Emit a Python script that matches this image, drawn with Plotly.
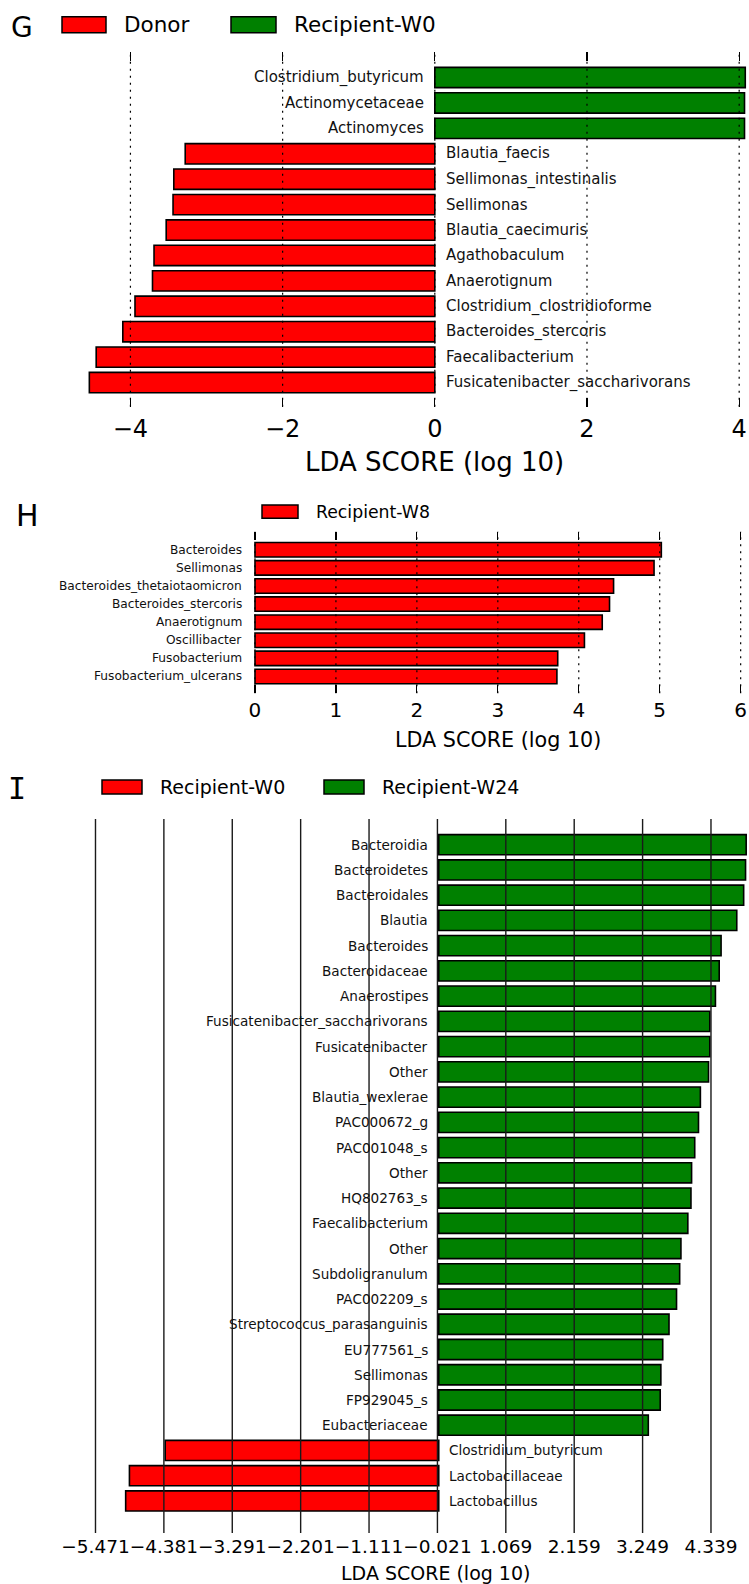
import plotly.graph_objects as go

W, H = 749, 1584
FONT = "DejaVu Sans"
RED, GREEN = "#FF0000", "#008000"

# ---------------- data ----------------
g_labels = ["Clostridium_butyricum", "Actinomycetaceae", "Actinomyces", "Blautia_faecis",
            "Sellimonas_intestinalis", "Sellimonas", "Blautia_caecimuris", "Agathobaculum",
            "Anaerotignum", "Clostridium_clostridioforme", "Bacteroides_stercoris",
            "Faecalibacterium", "Fusicatenibacter_saccharivorans"]
g_scores = [4.08, 4.07, 4.07, -3.28, -3.43, -3.44, -3.53, -3.69, -3.71, -3.94, -4.10, -4.45, -4.54]
g_classes = ["Donor", "Recipient-W0"]
g_ticks = [-4, -2, 0, 2, 4]

h_labels = ["Bacteroides", "Sellimonas", "Bacteroides_thetaiotaomicron", "Bacteroides_stercoris",
            "Anaerotignum", "Oscillibacter", "Fusobacterium", "Fusobacterium_ulcerans"]
h_scores = [5.02, 4.93, 4.43, 4.38, 4.29, 4.07, 3.74, 3.73]
h_classes = ["Recipient-W8"]
h_ticks = [0, 1, 2, 3, 4, 5, 6]

i_labels = ["Bacteroidia", "Bacteroidetes", "Bacteroidales", "Blautia", "Bacteroides",
            "Bacteroidaceae", "Anaerostipes", "Fusicatenibacter_saccharivorans", "Fusicatenibacter",
            "Other", "Blautia_wexlerae", "PAC000672_g", "PAC001048_s", "Other", "HQ802763_s",
            "Faecalibacterium", "Other", "Subdoligranulum", "PAC002209_s",
            "Streptococcus_parasanguinis", "EU777561_s", "Sellimonas", "FP929045_s",
            "Eubacteriaceae", "Clostridium_butyricum", "Lactobacillaceae", "Lactobacillus"]
i_scores = [4.90, 4.89, 4.86, 4.75, 4.50, 4.47, 4.41, 4.32, 4.32, 4.30, 4.17, 4.14, 4.08,
            4.03, 4.02, 3.97, 3.86, 3.84, 3.79, 3.67, 3.57, 3.54, 3.53, 3.34,
            -4.36, -4.93, -4.99]
i_classes = ["Recipient-W0", "Recipient-W24"]
i_ticks = [-5.471, -4.381, -3.291, -2.201, -1.111, -0.021, 1.069, 2.159, 3.249, 4.339]
i_ticktext = ["\u22125.471", "\u22124.381", "\u22123.291", "\u22122.201", "\u22121.111",
              "\u22120.021", "1.069", "2.159", "3.249", "4.339"]

AXIS_TITLE = "LDA SCORE (log 10)"


def py(px):
    return 1 - px / H


def px_(x):
    return x / W


fig = go.Figure()


def add_panel(n, labels, scores, classes, colors):
    """classes/colors: (class for negative scores, class for positive scores)."""
    xa, ya = ("x", "y") if n == 1 else (f"x{n}", f"y{n}")
    idx = list(range(len(labels)))
    groups = [(classes[0], colors[0], lambda s: s < 0), (classes[1], colors[1], lambda s: s >= 0)]
    for cls, color, keep in groups:
        ys = [i for i, s in zip(idx, scores) if keep(s)]
        xs = [s for s in scores if keep(s)]
        if not xs:
            continue
        fig.add_trace(go.Bar(x=xs, y=ys, orientation="h", width=0.8, name=cls,
                             marker=dict(color=color, line=dict(color="black", width=1.6)),
                             xaxis=xa, yaxis=ya, showlegend=False, hoverinfo="skip"))


add_panel(1, g_labels, g_scores, (g_classes[0], g_classes[1]), (RED, GREEN))
add_panel(2, h_labels, h_scores, (None, h_classes[0]), (None, RED))
add_panel(3, i_labels, i_scores, (i_classes[0], i_classes[1]), (RED, GREEN))

annotations = []
shapes = []


def cat_labels(xref, yref, labels, scores, size, shift):
    for i, (lab, s) in enumerate(zip(labels, scores)):
        annotations.append(dict(x=0, y=i, xref=xref, yref=yref, text=lab, showarrow=False,
                                xanchor="left" if s < 0 else "right", yanchor="middle",
                                xshift=shift if s < 0 else -shift,
                                font=dict(family=FONT, size=size, color="#111")))


cat_labels("x", "y", g_labels, g_scores, 15, 9)
cat_labels("x2", "y2", h_labels, h_scores, 12.2, 10.5)
cat_labels("x3", "y3", i_labels, i_scores, 13.6, 8.5)

# gridlines (drawn above bars, as in the reference)
for t in g_ticks:
    shapes.append(dict(type="line", xref="x", yref="y domain", x0=t, x1=t, y0=0, y1=1,
                       line=dict(color="black", width=1.2, dash="2px,5px"), layer="above"))
for t in h_ticks:
    shapes.append(dict(type="line", xref="x2", yref="y2 domain", x0=t, x1=t, y0=0, y1=1,
                       line=dict(color="black", width=1.2, dash="2px,5px"), layer="above"))
for t in i_ticks:
    shapes.append(dict(type="line", xref="x3", yref="y3 domain", x0=t, x1=t, y0=0, y1=1,
                       line=dict(color="#1a1a1a", width=1.4), layer="above"))

# panel letters
annotations += [
    dict(x=px_(22), y=py(27), xref="paper", yref="paper", text="G", showarrow=False,
         font=dict(family=FONT, size=28, color="black"), xanchor="center", yanchor="middle"),
    dict(x=px_(27), y=py(516), xref="paper", yref="paper", text="H", showarrow=False,
         font=dict(family=FONT, size=30, color="black"), xanchor="center", yanchor="middle"),
    dict(x=px_(17), y=py(789), xref="paper", yref="paper", text="I", showarrow=False,
         font=dict(family="DejaVu Sans Mono", size=30, color="black"), xanchor="center",
         yanchor="middle"),
]


# legends (swatch + text)
def legend_item(x0, x1, y0, y1, color, text, size):
    shapes.append(dict(type="rect", xref="paper", yref="paper", x0=px_(x0), x1=px_(x1),
                       y0=py(y1), y1=py(y0), fillcolor=color, line=dict(color="black", width=1.5),
                       layer="above"))
    annotations.append(dict(x=px_(x1 + 16), y=py((y0 + y1) / 2), xref="paper", yref="paper",
                            text=text, showarrow=False, xanchor="left", yanchor="middle",
                            font=dict(family=FONT, size=size, color="black")))


legend_item(62, 106, 16.7, 32.7, RED, g_classes[0], 21.5)
legend_item(231, 276, 16.7, 32.7, GREEN, g_classes[1], 21.5)
legend_item(262, 298, 505, 518.3, RED, h_classes[0], 17.3)
legend_item(102, 142, 780, 794, RED, i_classes[0], 19)
legend_item(324, 364, 780, 794, GREEN, i_classes[1], 19)

# axis titles
annotations += [
    dict(x=0, y=py(461.7), xref="x", yref="paper", text=AXIS_TITLE, showarrow=False,
         font=dict(family=FONT, size=26, color="black"), xanchor="center", yanchor="middle"),
    dict(x=3, y=py(740), xref="x2", yref="paper", text=AXIS_TITLE, showarrow=False,
         font=dict(family=FONT, size=20.7, color="black"), xanchor="center", yanchor="middle"),
    dict(x=-0.05, y=py(1573), xref="x3", yref="paper", text=AXIS_TITLE, showarrow=False,
         font=dict(family=FONT, size=19, color="black"), xanchor="center", yanchor="middle"),
]

common_x = dict(showgrid=False, zeroline=False, showline=False, layer="above traces",
                ticklabeloverflow="allow", tickcolor="black", fixedrange=True, tickangle=0)
common_y = dict(showgrid=False, zeroline=False, showline=False, showticklabels=False,
                ticks="", fixedrange=True)

fig.update_layout(
    width=W, height=H, margin=dict(l=0, r=0, t=0, b=0),
    paper_bgcolor="white", plot_bgcolor="white", barmode="overlay", showlegend=False,
    hovermode=False,
    xaxis=dict(domain=[0, 1], range=[-5.714, 4.129], anchor="y", tickvals=g_ticks,
               ticks="inside", ticklen=9, tickwidth=1.2, mirror="ticks", ticklabelstandoff=5,
               tickfont=dict(family=FONT, size=24, color="black"), **common_x),
    yaxis=dict(domain=[py(406.7), py(51.7)], range=[12.95, -1.015], anchor="x", **common_y),
    xaxis2=dict(domain=[0, 1], range=[-3.150, 6.103], anchor="y2", tickvals=h_ticks,
                ticks="inside", ticklen=8, tickwidth=1.2, mirror="ticks", ticklabelstandoff=3,
                tickfont=dict(family=FONT, size=20, color="black"), **common_x),
    yaxis2=dict(domain=[py(693.3), py(531.7)], range=[7.93, -1.0], anchor="x2", **common_y),
    xaxis3=dict(domain=[0, 1], range=[-6.993, 4.945], anchor="y3", tickvals=i_ticks,
                ticktext=i_ticktext, ticks="",
                tickfont=dict(family=FONT, size=18.5, color="black"), **common_x),
    yaxis3=dict(domain=[py(1533), py(819)], range=[27.27, -1.018], anchor="x3", **common_y),
    annotations=annotations, shapes=shapes,
)

# the page's default 8px body margin would shift the whole figure; remove it
fig.write_html("out.html", config={"displayModeBar": False, "staticPlot": True},
               post_script="document.body.style.margin='0';")
